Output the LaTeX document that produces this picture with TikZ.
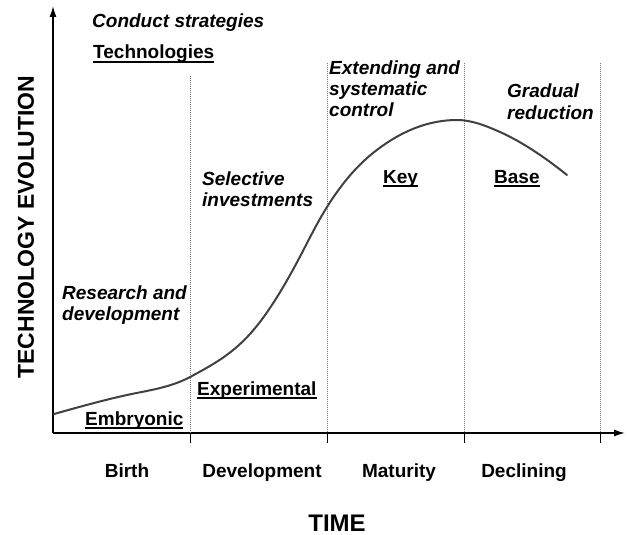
\documentclass[tikz,border=0pt]{standalone}
\usepackage{fontspec}
\setmainfont{Liberation Sans}
\usetikzlibrary{arrows.meta}
\newcommand\ulbox[1]{\setbox0\hbox{#1}\rlap{\vrule height -2.2pt depth 3.8pt width \wd0}\box0}
\begin{document}
\begin{tikzpicture}[x=1pt,y=-1pt,
  lbl/.style={font=\fontsize{19}{21}\selectfont\bfseries, inner sep=0},
  itl/.style={font=\fontsize{19}{21}\selectfont\bfseries\itshape, inner sep=0, align=left},
  big/.style={font=\fontsize{#1}{#1}\selectfont\bfseries, inner sep=0},
  axisline/.style={line width=1.4pt, -{Latex[length=11pt,width=7pt]}},
  divider/.style={draw=black!55, line width=0.8pt, dash pattern=on 0.8pt off 1.2pt},
  tickline/.style={line width=1pt},
  curveline/.style={line width=2pt, draw=black!75, line cap=round}]
\useasboundingbox (0,0) rectangle (627,535);
% axes
\coordinate (O) at (53,433);
\coordinate (Ytop) at (53,6);
\coordinate (Xend) at (625,433);
\draw[axisline] (O) -- (Ytop);
\draw[axisline] (O) -- (Xend);
% dividers and ticks
\foreach \x/\t [count=\i] in {190/76, 327/63, 464/63, 600/63} {
  \coordinate (d\i t) at (\x,\t);
  \coordinate (d\i b) at (\x,433);
  \coordinate (d\i k) at (\x,443);
  \draw[divider] (d\i t) -- (d\i b);
  \draw[tickline] (d\i b) -- (d\i k);
}
% curve
\draw[curveline] (54,414)
  .. controls (78.3,407.2) and (102.7,400.3) .. (127,395)
  .. controls (148.7,390.2) and (170.3,387.9) .. (192,376)
  .. controls (211.3,365.4) and (230.7,355.3) .. (250,334)
  .. controls (268.3,313.8) and (286.7,282.7) .. (305,247)
  .. controls (312.3,232.7) and (319.7,218.7) .. (327,207)
  .. controls (342.3,182.5) and (357.7,165.3) .. (373,153)
  .. controls (401,130.6) and (429,120) .. (457,120)
  .. controls (471.3,120) and (485.7,125.6) .. (500,132)
  .. controls (522.3,142) and (544.7,157.2) .. (567,175);
% axis titles
\node[big=23, rotate=90] (ylab) at (26,227) {TECHNOLOGY EVOLUTION};
\node[big=24, anchor=base] (xlab) at (337,531) {TIME};
% phases
\node[lbl, anchor=base] (birth) at (127,477) {Birth};
\node[lbl, anchor=base] (devel) at (262,477) {Development};
\node[lbl, anchor=base] (matur) at (399,477) {Maturity};
\node[lbl, anchor=base] (decl) at (524,477) {Declining};
% headers
\node[itl, anchor=base west] (conduct) at (92,28) {Conduct strategies};
\node[lbl, anchor=base west] (techs) at (93,59) {\ulbox{Technologies}};
% strategies (base = baseline of last line)
\node[itl, anchor=base west] (research) at (62,320) {Research and\\development};
\node[itl, anchor=base west] (selective) at (202,206) {Selective\\investments};
\node[itl, anchor=base west] (extending) at (329,117) {Extending and\\systematic\\control};
\node[itl, anchor=base west] (gradual) at (507,119) {Gradual\\reduction};
% technologies
\node[lbl, anchor=base west] (embryo) at (85,425) {\ulbox{Embryonic}};
\node[lbl, anchor=base west] (exper) at (197,395) {\ulbox{Experimental}};
\node[lbl, anchor=base west] (key) at (383,183) {\ulbox{Key}};
\node[lbl, anchor=base west] (base) at (494,183) {\ulbox{Base}};
\end{tikzpicture}
\end{document}
